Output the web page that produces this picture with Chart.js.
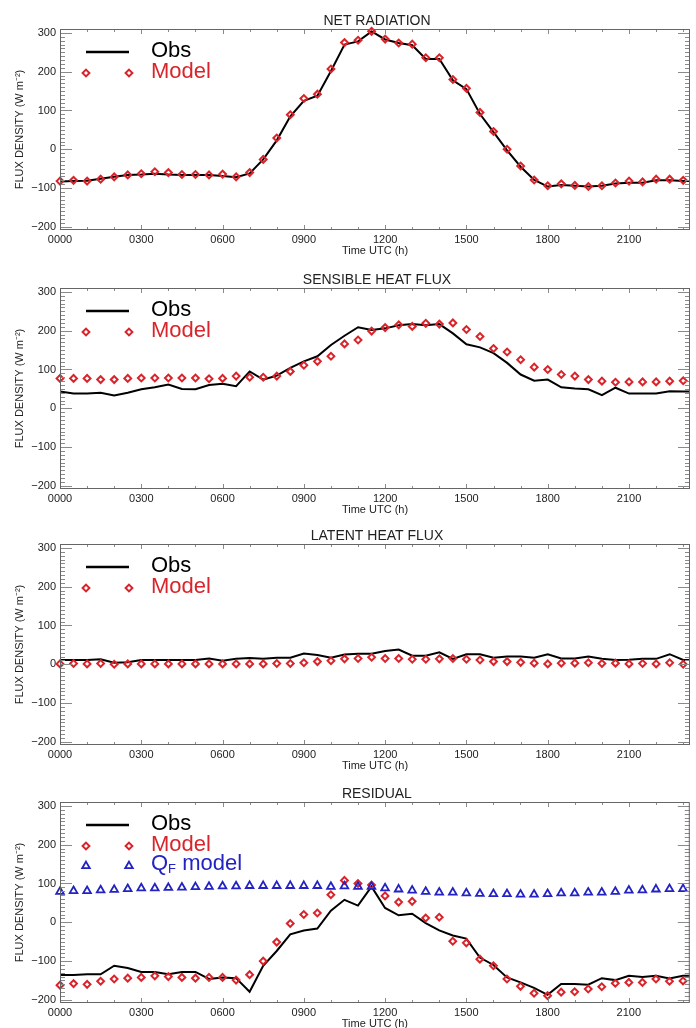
<!DOCTYPE html>
<html>
<head>
<meta charset="utf-8">
<script src="https://cdn.jsdelivr.net/npm/chart.js@4.4.1/dist/chart.umd.min.js"></script>
<style>
  html, body { margin: 0; padding: 0; background: #fff; }
  body { width: 696px; height: 1028px; position: relative; overflow: hidden; }
  canvas { position: absolute; left: 0; }
</style>
</head>
<body>
<canvas id="netChart" width="696" height="258" style="top:0px"></canvas>
<canvas id="sensibleChart" width="696" height="258" style="top:259px"></canvas>
<canvas id="latentChart" width="696" height="258" style="top:515px"></canvas>
<canvas id="residualChart" width="696" height="258" style="top:773px"></canvas>
<script>
// half-hourly times (hours UTC)
const hours = [0, 0.5, 1, 1.5, 2, 2.5, 3, 3.5, 4, 4.5, 5, 5.5, 6, 6.5, 7, 7.5,
  8, 8.5, 9, 9.5, 10, 10.5, 11, 11.5, 12, 12.5, 13, 13.5, 14, 14.5, 15, 15.5,
  16, 16.5, 17, 17.5, 18, 18.5, 19, 19.5, 20, 20.5, 21, 21.5, 22, 22.5, 23, 23.5];
const timeLabels = ['0000', '0300', '0600', '0900', '1200', '1500', '1800', '2100'];

const netObs = [-83, -82, -81, -76, -71, -66, -65, -63, -65, -66, -66, -66, -69, -72, -62, -26,
  23, 85, 125, 138, 202, 270, 278, 304, 283, 274, 268, 233, 233, 178, 155, 91,
  44, -3, -45, -79, -96, -92, -94, -96, -94, -88, -86, -86, -80, -80, -82, -82];
const netModel = [-82, -80, -82, -77, -71, -66, -63, -58, -60, -65, -65, -66, -64, -71, -60, -26,
  29, 89, 131, 142, 207, 275, 281, 304, 284, 274, 271, 236, 236, 180, 157, 95,
  46, 0, -43, -79, -94, -89, -93, -96, -94, -87, -82, -84, -77, -77, -80, -82];

const sensibleObs = [43, 38, 38, 40, 33, 40, 49, 54, 61, 50, 49, 60, 63, 57, 95, 74,
  84, 104, 121, 134, 163, 187, 209, 202, 206, 214, 217, 214, 217, 193, 165, 157,
  142, 117, 87, 71, 74, 54, 51, 49, 34, 53, 38, 38, 38, 44, 43, 43];
const sensibleModel = [77, 77, 77, 74, 74, 77, 78, 78, 78, 78, 78, 76, 77, 83, 80, 80,
  83, 95, 111, 121, 134, 166, 176, 199, 208, 215, 211, 219, 217, 220, 203, 185,
  154, 145, 125, 106, 100, 87, 83, 74, 70, 67, 68, 68, 68, 70, 71, 72];

const latentObs = [11, 11, 11, 13, 4, 5, 11, 11, 11, 11, 11, 15, 9, 14, 16, 14,
  17, 17, 28, 24, 17, 25, 27, 27, 34, 38, 22, 22, 31, 14, 26, 26,
  17, 20, 20, 17, 26, 15, 15, 20, 14, 11, 12, 14, 14, 26, 11, 11];
const latentModel = [1, 2, 1, 2, 0, 1, 1, 1, 1, 1, 1, 1, 1, 1, 1, 1,
  2, 2, 4, 7, 9, 14, 15, 18, 15, 15, 13, 13, 14, 15, 13, 11,
  7, 7, 5, 3, 1, 3, 3, 4, 2, 3, 1, 2, 1, 4, 0, 1];

const residualObs = [-136, -136, -134, -134, -112, -118, -128, -128, -134, -128, -128, -146, -142, -144, -179, -112,
  -74, -31, -21, -16, 30, 58, 43, 92, 37, 18, 22, -2, -21, -34, -42, -91,
  -110, -142, -155, -169, -187, -159, -159, -161, -144, -149, -138, -141, -138, -145, -138, -138];
const residualModel = [-162, -158, -160, -152, -146, -144, -142, -138, -140, -142, -144, -142, -142, -149, -135, -100,
  -51, -3, 20, 24, 71, 108, 100, 96, 68, 52, 54, 11, 13, -49, -53, -95,
  -112, -146, -165, -183, -189, -180, -179, -172, -166, -157, -155, -155, -146, -152, -151, -150];
const qfModel = [79, 81, 81, 83, 84, 86, 88, 88, 89, 90, 91, 92, 93, 93, 94, 94,
  94, 94, 94, 94, 92, 93, 92, 92, 88, 85, 82, 79, 77, 77, 75, 74,
  73, 73, 72, 72, 73, 75, 75, 77, 77, 79, 82, 83, 85, 86, 86, 85];

const RED = '#d8242a';
const BLUE = '#2323c4';
const FONT = "'Liberation Sans', Arial, Helvetica, sans-serif";

function toPoints(values) {
  return values.map((v, i) => ({ x: hours[i], y: v }));
}

function legendDiamond(ctx, x, y) {
  const r = 3.4;
  ctx.beginPath();
  ctx.moveTo(x, y - r); ctx.lineTo(x + r, y); ctx.lineTo(x, y + r); ctx.lineTo(x - r, y);
  ctx.closePath();
  ctx.stroke();
}

function legendTriangle(ctx, x, y) {
  const r = 4.4;
  ctx.beginPath();
  ctx.moveTo(x, y - r);
  ctx.lineTo(x + r * 0.866, y + r / 2);
  ctx.lineTo(x - r * 0.866, y + r / 2);
  ctx.closePath();
  ctx.stroke();
}

// IDL style box with inward ticks, panel title and legend
const idlFrame = {
  id: 'idlFrame',
  afterDatasetsDraw(chart, args, opts) {
    const { ctx, chartArea: a, scales: { x, y } } = chart;
    ctx.save();
    ctx.strokeStyle = '#8a8a8a';
    ctx.lineWidth = 1;
    ctx.beginPath();
    for (let v = -200; v <= 300; v += 10) {
      const py = Math.round(y.getPixelForValue(v)) + 0.5;
      const len = v % 100 === 0 ? 12 : 5;
      ctx.moveTo(a.left, py); ctx.lineTo(a.left + len, py);
      ctx.moveTo(a.right, py); ctx.lineTo(a.right - len, py);
    }
    for (let h = 1; h <= 23; h += 1) {
      const px = Math.round(x.getPixelForValue(h)) + 0.5;
      const len = h % 3 === 0 ? 5 : 3;
      ctx.moveTo(px, a.bottom); ctx.lineTo(px, a.bottom - len);
      ctx.moveTo(px, a.top); ctx.lineTo(px, a.top + len);
    }
    ctx.stroke();
    ctx.strokeStyle = '#666';
    ctx.strokeRect(a.left + 0.5, a.top + 0.5, a.right - a.left - 1, a.bottom - a.top - 1);

    // title
    ctx.fillStyle = '#222';
    ctx.font = '14px ' + FONT;
    ctx.textAlign = 'center';
    ctx.textBaseline = 'alphabetic';
    ctx.fillText(opts.title, (a.left + a.right) / 2 + 2, a.top - 4);

    // legend
    const lx1 = 86, lx2 = 129, tx = 151;
    ctx.strokeStyle = '#000';
    ctx.lineWidth = 2.4;
    ctx.beginPath();
    ctx.moveTo(lx1, a.top + 23); ctx.lineTo(lx2, a.top + 23);
    ctx.stroke();
    ctx.textAlign = 'left';
    ctx.font = '22px ' + FONT;
    ctx.fillStyle = '#000';
    ctx.fillText('Obs', tx, a.top + 28);

    ctx.strokeStyle = RED;
    ctx.lineWidth = 2;
    legendDiamond(ctx, lx1, a.top + 44);
    legendDiamond(ctx, lx2, a.top + 44);
    ctx.fillStyle = RED;
    ctx.fillText('Model', tx, a.top + 49);

    if (opts.qf) {
      ctx.strokeStyle = BLUE;
      ctx.lineWidth = 1.8;
      legendTriangle(ctx, lx1, a.top + 64);
      legendTriangle(ctx, lx2, a.top + 64);
      ctx.fillStyle = BLUE;
      ctx.fillText('Q', tx, a.top + 68);
      const qw = ctx.measureText('Q').width;
      ctx.font = '13px ' + FONT;
      ctx.fillText('F', tx + qw, a.top + 71);
      const fw = ctx.measureText('F').width;
      ctx.font = '22px ' + FONT;
      ctx.fillText(' model', tx + qw + fw, a.top + 68);
    }
    ctx.restore();
  }
};

function makePanel(canvasId, title, obs, model, qf) {
  const datasets = [
    {
      label: 'Obs',
      data: toPoints(obs),
      borderColor: '#000',
      borderWidth: 2,
      pointRadius: 0,
      tension: 0,
      order: 3
    },
    {
      label: 'Model',
      data: toPoints(model),
      showLine: false,
      pointStyle: 'rectRot',
      pointRadius: 3.4,
      pointBorderWidth: 2,
      pointBorderColor: RED,
      pointBackgroundColor: 'rgba(0,0,0,0)',
      order: 2
    }
  ];
  if (qf) {
    datasets.push({
      label: 'QF model',
      data: toPoints(qf),
      showLine: false,
      pointStyle: 'triangle',
      pointRadius: 4.4,
      pointBorderWidth: 1.8,
      pointBorderColor: BLUE,
      pointBackgroundColor: 'rgba(0,0,0,0)',
      order: 1
    });
  }
  datasets.forEach(d => { d.clip = { left: 6, top: 6, right: 0, bottom: 6 }; });

  return new Chart(document.getElementById(canvasId), {
    type: 'line',
    data: { datasets: datasets },
    options: {
      responsive: false,
      animation: false,
      devicePixelRatio: 1,
      layout: { padding: { top: 29, right: 1, left: 0, bottom: 0 } },
      plugins: {
        legend: { display: false },
        tooltip: { enabled: false },
        idlFrame: { title: title, qf: !!qf }
      },
      scales: {
        x: {
          type: 'linear',
          min: 0,
          max: 23.25,
          grid: { display: false, drawTicks: false },
          border: { display: false },
          ticks: {
            stepSize: 3,
            includeBounds: false,
            autoSkip: false,
            maxRotation: 0,
            padding: 3,
            color: '#222',
            font: { family: FONT, size: 11 },
            callback: v => timeLabels[v / 3]
          },
          title: {
            display: true,
            text: 'Time UTC (h)',
            color: '#222',
            font: { family: FONT, size: 11 },
            padding: { top: 0, bottom: 0 }
          },
          afterFit: s => { s.height = 28; s.paddingLeft = 0; s.paddingRight = 0; }
        },
        y: {
          min: -208,
          max: 310,
          grid: { display: false, drawTicks: false },
          border: { display: false },
          ticks: {
            stepSize: 100,
            includeBounds: false,
            padding: 4,
            color: '#222',
            font: { family: FONT, size: 11 },
            callback: v => v < 0 ? '\u2212' + Math.abs(v) : String(v)
          },
          title: {
            display: true,
            text: 'FLUX DENSITY (W m\u207B\u00B2)',
            color: '#222',
            font: { family: FONT, size: 11 },
            padding: { top: 13, bottom: 0 }
          },
          afterFit: s => { s.width = 60; s.paddingTop = 0; s.paddingBottom = 0; }
        }
      }
    },
    plugins: [idlFrame]
  });
}

window.addEventListener('DOMContentLoaded', () => {
  makePanel('netChart', 'NET RADIATION', netObs, netModel);
  makePanel('sensibleChart', 'SENSIBLE HEAT FLUX', sensibleObs, sensibleModel);
  makePanel('latentChart', 'LATENT HEAT FLUX', latentObs, latentModel);
  makePanel('residualChart', 'RESIDUAL', residualObs, residualModel, qfModel);
});
</script>
</body>
</html>
